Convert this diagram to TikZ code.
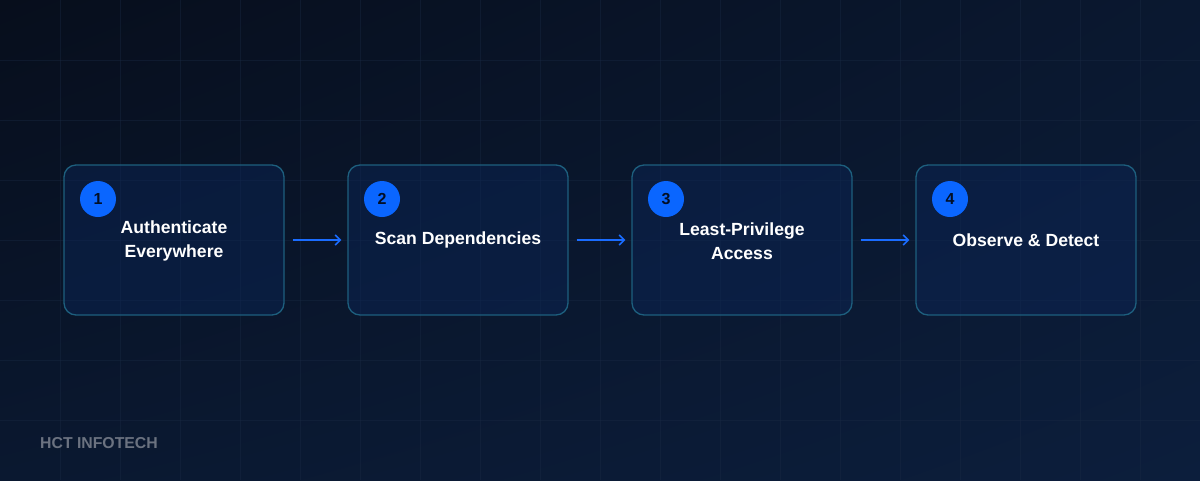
\documentclass[tikz,border=0pt]{standalone}
\usepackage{fontspec}
\setmainfont{Liberation Sans}
\usetikzlibrary{arrows.meta,shadings}
\definecolor{bgA}{HTML}{070E1C}
\definecolor{bgB}{HTML}{0A1830}
\definecolor{bgC}{HTML}{0C1E3C}
\definecolor{gridc}{HTML}{1A2A44}
\definecolor{boxfill}{HTML}{0B2658}
\definecolor{boxline}{HTML}{1D5F7E}
\definecolor{badge}{HTML}{0A66FF}
\definecolor{arrowc}{HTML}{1A6CFF}
\definecolor{brand}{HTML}{6B7280}
\tikzset{
  stepbox/.style={draw=boxline, line width=1.3pt, rounded corners=12pt, fill=boxfill, fill opacity=0.45, draw opacity=1, minimum width=220pt, minimum height=150pt, inner sep=0pt},
  badgec/.style={circle, fill=badge, minimum size=36pt, inner sep=0pt, text=black!85!badge, font=\fontsize{16}{16}\selectfont\bfseries},
  steptext/.style={text=white, align=center, font=\fontsize{17.6}{24}\selectfont\bfseries},
  flow/.style={draw=arrowc, line width=1.6pt, -{Straight Barb[length=5pt,width=10pt]}}
}
\begin{document}
\begin{tikzpicture}[x=1pt,y=-1pt]
\useasboundingbox (0,0) rectangle (1200,480);
\shade[upper left=bgA, upper right=bgB, lower left=bgB, lower right=bgC] (0,0) rectangle (1200,480);
\foreach \i in {60,120,...,1140} \draw[gridc, line width=1pt, opacity=0.4] (\i,0) -- (\i,480);
\foreach \j in {60,120,...,420} \draw[gridc, line width=1pt, opacity=0.4] (0,\j) -- (1200,\j);
\foreach \n/\x in {1/174,2/458,3/742,4/1026} {
  \node[stepbox] (b\n) at (\x,240) {};
  \node[badgec] (c\n) at (\x-76,199) {\n};
}
\node[steptext] (t1) at (174,241) {Authenticate\\Everywhere};
\node[steptext] (t2) at (458,240) {Scan Dependencies};
\node[steptext] (t3) at (742,241) {Least-Privilege\\Access};
\node[steptext] (t4) at (1026,240) {Observe \& Detect};
\draw[flow] ([xshift=8pt]b1.east) -- ([xshift=-6pt]b2.west);
\draw[flow] ([xshift=8pt]b2.east) -- ([xshift=-6pt]b3.west);
\draw[flow] ([xshift=8pt]b3.east) -- ([xshift=-6pt]b4.west);
\node[anchor=west, text=brand, font=\fontsize{15.8}{16}\selectfont\bfseries, inner sep=0pt] (brand) at (40,443) {HCT INFOTECH};
\end{tikzpicture}
\end{document}
